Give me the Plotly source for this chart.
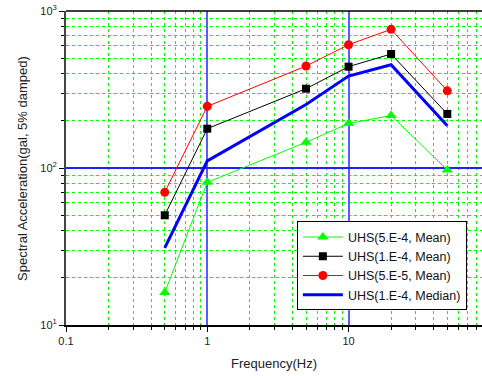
import numpy as np
import plotly.graph_objects as go

freq = [0.5, 1, 5, 10, 20, 50]
uhs_5e4_mean = [16.1, 81, 146, 192, 216, 97]
uhs_1e4_mean = [50, 178, 320, 442, 532, 221]
uhs_5e5_mean = [70, 247, 446, 610, 764, 310]
uhs_1e4_median = [31, 111, 254, 385, 455, 186]

x_ticks = [0.1, 1, 10]
x_ticklabels = ["0.1", "1", "10"]
y_ticks = [10, 100, 1000]
y_ticklabels = ["10<sup>1</sup>", "10<sup>2</sup>", "10<sup>3</sup>"]

fig = go.Figure()
fig.add_trace(go.Scatter(x=freq, y=uhs_5e4_mean, name="UHS(5.E-4, Mean)", mode="lines+markers",
                         line=dict(color="#00ff00", width=1),
                         marker=dict(symbol="triangle-up", size=10, color="#00ff00")))
fig.add_trace(go.Scatter(x=freq, y=uhs_1e4_mean, name="UHS(1.E-4, Mean)", mode="lines+markers",
                         line=dict(color="#000000", width=1),
                         marker=dict(symbol="square", size=8, color="#000000")))
fig.add_trace(go.Scatter(x=freq, y=uhs_5e5_mean, name="UHS(5.E-5, Mean)", mode="lines+markers",
                         line=dict(color="#ff0000", width=1),
                         marker=dict(symbol="circle", size=9, color="#ff0000")))
fig.add_trace(go.Scatter(x=freq, y=uhs_1e4_median, name="UHS(1.E-4, Median)", mode="lines",
                         line=dict(color="#0000ff", width=3)))

font = dict(family="Liberation Sans, Arial, sans-serif", color="#222")

fig.update_layout(
    width=482, height=376,
    margin=dict(l=66, r=0, t=11, b=51, autoexpand=False),
    paper_bgcolor="white", plot_bgcolor="white",
    font=font,
    showlegend=True,
    legend=dict(x=0.555, y=0.33, xanchor="left", yanchor="top",
                bgcolor="white", bordercolor="black", borderwidth=1,
                font=dict(size=12.5, family="Liberation Sans, Arial, sans-serif", color="#111"),
                itemwidth=40, entrywidth=125, tracegroupgap=0),
)

fig.update_xaxes(
    type="log", range=[-1, np.log10(88)], automargin=False,
    tickvals=x_ticks, ticktext=x_ticklabels,
    tickfont=dict(size=11), ticks="outside", ticklen=5, tickcolor="black",
    showline=True, linecolor="black", linewidth=1.5, mirror=False,
    showgrid=True, gridcolor="#5a5aff", gridwidth=1.5,
    zeroline=False,
    minor=dict(dtick="D1", ticks="outside", ticklen=3, tickcolor="black",
               showgrid=True, gridcolor="#00ff00", griddash="dot", gridwidth=1),
)
fig.update_yaxes(
    type="log", range=[1, 3], automargin=False,
    tickvals=y_ticks, ticktext=y_ticklabels,
    tickfont=dict(size=11), ticks="outside", ticklen=5, tickcolor="black",
    showline=True, linecolor="#444", linewidth=2, mirror=False,
    showgrid=True, gridcolor="#2020ff", gridwidth=1.5,
    zeroline=False,
    minor=dict(dtick="D1", ticks="outside", ticklen=3, tickcolor="black",
               showgrid=True, gridcolor="#00ff00", griddash="dot", gridwidth=1),
)

fig.add_annotation(text="Frequency(Hz)", xref="paper", yref="paper", x=0.5, y=-0.124,
                   xanchor="center", yanchor="middle", showarrow=False, font=dict(size=13))
fig.add_annotation(text="Spectral Acceleration(gal, 5% damped)", xref="paper", yref="paper",
                   x=-0.106, y=0.5, xanchor="center", yanchor="middle", textangle=-90,
                   showarrow=False, font=dict(size=13))

# top border line
fig.add_shape(type="line", xref="paper", yref="paper", x0=0, x1=1, y0=1, y1=1,
              line=dict(color="black", width=1.5))

fig.write_html("out.html", config={"displayModeBar": False},
               post_script="document.body.style.margin='0';")
